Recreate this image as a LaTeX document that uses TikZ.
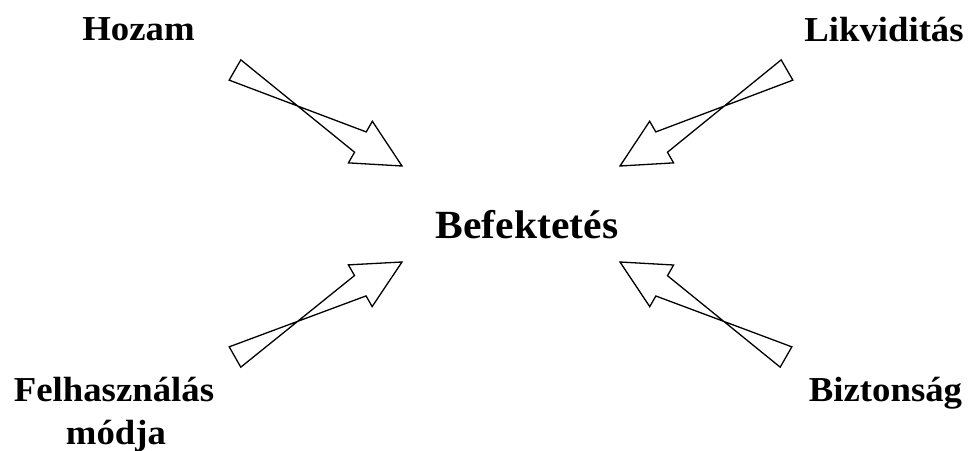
\documentclass[tikz,border=0pt]{standalone}
\usepackage{fontspec}
\setmainfont{Liberation Serif}
\usetikzlibrary{calc}
\begin{document}
\begin{tikzpicture}[x=1pt,y=1pt,
  label/.style={font=\fontsize{35}{40}\selectfont\bfseries, inner sep=0pt, anchor=base, xscale=1.05, transform shape},
  title/.style={font=\fontsize{40}{46}\selectfont\bfseries, inner sep=0pt, anchor=base, xscale=1.04, transform shape},
  blockarrow/.style={draw=black, fill=white, line width=1.3pt, line join=miter}]
  \useasboundingbox (0,0) rectangle (968,450);

  % labels
  \node[label] (hozam) at (138.5,409) {Hozam};
  \node[label] (likv) at (884,408.3) {Likviditás};
  \node[title] (bef) at (527,211.7) {Befektetés};
  \node[label] (felh) at (114,48.3) {Felhasználás};
  \node[label] (modja) at (116,6) {módja};
  \node[label] (bizt) at (885.5,48.3) {Biztonság};

  % tails and tips of the block arrows
  \coordinate (t1) at (235,380); \coordinate (p1) at (402,284);
  \coordinate (t2) at (787,380); \coordinate (p2) at (620,284);
  \coordinate (t3) at (235,93);  \coordinate (p3) at (402,188);
  \coordinate (t4) at (786,93);  \coordinate (p4) at (620,188);

  % block arrow: shaft half-width 11.7, head half-width 24, head length 48
  \newcommand{\fatarrow}[2]{%
    \draw[blockarrow]
      ($(#1)!11.7pt!90:(#2)$) --
      ($($(#2)!48pt!(#1)$)!11.7pt!-90:(#2)$) --
      ($($(#2)!48pt!(#1)$)!24pt!-90:(#2)$) --
      (#2) --
      ($($(#2)!48pt!(#1)$)!24pt!90:(#2)$) --
      ($($(#2)!48pt!(#1)$)!11.7pt!90:(#2)$) --
      ($(#1)!11.7pt!-90:(#2)$) -- cycle;}

  \fatarrow{t1}{p1}
  \fatarrow{t2}{p2}
  \fatarrow{t3}{p3}
  \fatarrow{t4}{p4}
\end{tikzpicture}
\end{document}
